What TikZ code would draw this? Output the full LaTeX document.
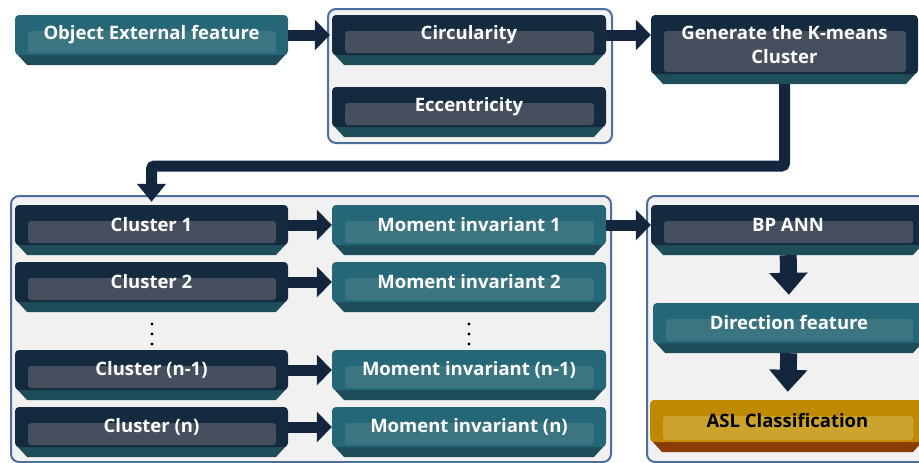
\documentclass[tikz,border=0pt]{standalone}
\usepackage{fontspec}
\setmainfont{Open Sans}
\usetikzlibrary{arrows.meta}
\definecolor{dkout}{HTML}{142A3F}
\definecolor{dkin}{HTML}{464F5E}
\definecolor{dkbot}{HTML}{1F4D58}
\definecolor{dktxt}{HTML}{FFFFFF}
\definecolor{tlout}{HTML}{256777}
\definecolor{tlin}{HTML}{3A7581}
\definecolor{tlbot}{HTML}{1E4C58}
\definecolor{tltxt}{HTML}{FFFFFF}
\definecolor{gdout}{HTML}{C08A00}
\definecolor{gdin}{HTML}{CCA32C}
\definecolor{gdbot}{HTML}{8A3C06}
\definecolor{gdtxt}{HTML}{000000}
\definecolor{arr}{HTML}{13263D}
\definecolor{grpfill}{HTML}{F1F1F1}
\definecolor{grpline}{HTML}{4E6E9E}
\tikzset{
  boxtext/.style={font=\bfseries\fontsize{18.5}{24}\selectfont, align=center, inner sep=0pt},
  grp/.style={draw=grpline, line width=2pt, fill=grpfill, rounded corners=8pt, inner sep=0pt},
  harrow/.style={draw=arr, line width=11pt, -{Triangle[width=30pt,length=15pt]}},
  varrow/.style={draw=arr, line width=17pt, -{Triangle[width=37pt,length=22pt]}},
  kconn/.style={draw=arr, line width=11pt, rounded corners=3pt, -{Triangle[width=28pt,length=18pt]}},
  dotmark/.style={fill=black, circle, inner sep=0pt, minimum size=3.4pt},
}
% name, x1, y1, x2, y2, colour set, text
\newcommand\bvbox[7]{%
  \fill[#6bot] (#2+1,#5-12) -- (#4-1,#5-12) -- (#4-12,#5) -- (#2+12,#5) -- cycle;
  \fill[#6out, rounded corners=4pt] (#2,#3) rectangle (#4,#5-10);
  \fill[#6in, rounded corners=3pt] (#2+13,#3+16) rectangle (#4-12,#5-12);
  \node[boxtext, text=#6txt, minimum width={(#4-#2)*1pt}, minimum height={(#5-#3-10)*1pt}]
    (#1) at ({(#2+#4)/2},{(#3+#5-10)/2}) {#7};
}
\begin{document}
\begin{tikzpicture}[x=1pt,y=-1pt]
\useasboundingbox (0,0) rectangle (919,463);
\clip (0,0) rectangle (919,463);
% group boxes
\node[grp, anchor=north west, minimum width=284pt, minimum height=134pt] (g1) at (327,8) {};
\node[grp, anchor=north west, minimum width=600pt, minimum height=266pt] (g2) at (10,195) {};
\node[grp, anchor=north west, minimum width=290pt, minimum height=266pt] (g3) at (646,195) {};
% boxes
\bvbox{obj}{15}{15}{288}{65}{tl}{Object External feature}
\bvbox{circ}{332}{15}{606}{65}{dk}{Circularity}
\bvbox{ecc}{332}{87}{606}{137}{dk}{Eccentricity}
\bvbox{gen}{651}{15}{918}{84}{dk}{Generate the K-means\\Cluster}
\bvbox{c1}{15}{205}{288}{255}{dk}{Cluster 1}
\bvbox{c2}{15}{262}{288}{312}{dk}{Cluster 2}
\bvbox{cn1}{15}{350}{288}{400}{dk}{Cluster (n-1)}
\bvbox{cn}{15}{407}{288}{457}{dk}{Cluster (n)}
\bvbox{m1}{332}{205}{606}{255}{tl}{Moment invariant 1}
\bvbox{m2}{332}{262}{606}{312}{tl}{Moment invariant 2}
\bvbox{mn1}{332}{350}{606}{400}{tl}{Moment invariant (n-1)}
\bvbox{mn}{332}{407}{606}{457}{tl}{Moment invariant (n)}
\bvbox{bp}{651}{205}{925}{255}{dk}{BP ANN}
\bvbox{dir}{653}{303}{925}{353}{tl}{Direction feature}
\bvbox{asl}{650}{400}{925}{452}{gd}{ASL Classification}
% dots
\node[dotmark] (d1) at (152,324) {};
\node[dotmark] (d2) at (152,334) {};
\node[dotmark] (d3) at (152,344) {};
\node[dotmark] (e1) at (469,324) {};
\node[dotmark] (e2) at (469,334) {};
\node[dotmark] (e3) at (469,344) {};
% connectors
\draw[harrow, shorten >=2pt] (obj.east) -- (circ.west);
\draw[harrow] (circ.east) -- (circ.east -| gen.west);
\coordinate (ky) at (0,166);
\draw[kconn, shorten <=10pt, shorten >=3pt] (gen.south) -- (gen.south |- ky) -| (c1.north);
\draw[harrow] (c1.east) -- (m1.west);
\draw[harrow] (c2.east) -- (m2.west);
\draw[harrow] (cn1.east) -- (mn1.west);
\draw[harrow] (cn.east) -- (mn.west);
\draw[harrow] (m1.east) -- (bp.west);
\draw[varrow, shorten <=10pt, shorten >=8pt] (bp.south) -- (dir.north);
\draw[varrow, shorten <=10pt, shorten >=8pt] (dir.south) -- (asl.north);
\end{tikzpicture}
\end{document}
